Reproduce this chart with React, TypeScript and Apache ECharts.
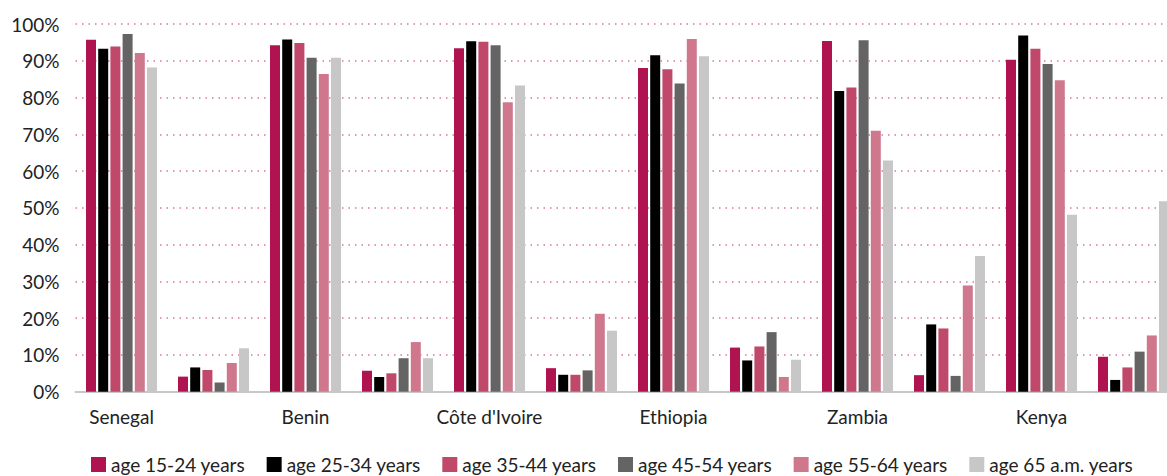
import React, { useEffect, useRef } from "react";
import * as echarts from "echarts";

// Countries; each one has two bar groups, the label sits under the first
const countries = ["Senegal", "Benin", "Côte d'Ivoire", "Ethiopia", "Zambia", "Kenya"];

const ageGroups = [
  "age 15-24 years",
  "age 25-34 years",
  "age 35-44 years",
  "age 45-54 years",
  "age 55-64 years",
  "age 65 a.m. years",
];

const colors = ["#B01450", "#000000", "#C0486B", "#646464", "#CF788D", "#C7C7C7"];

// Shares in percent, two groups per country (Senegal, Senegal, Benin, Benin, ...)
const age15to24 = [95.7, 4.1, 94.2, 5.7, 93.4, 6.4, 88.0, 12.0, 95.4, 4.5, 90.3, 9.5];
const age25to34 = [93.3, 6.6, 95.8, 4.0, 95.3, 4.6, 91.5, 8.5, 81.8, 18.3, 96.9, 3.2];
const age35to44 = [93.9, 5.9, 94.8, 5.0, 95.2, 4.6, 87.7, 12.3, 82.7, 17.2, 93.3, 6.6];
const age45to54 = [97.3, 2.5, 90.8, 9.1, 94.2, 5.8, 83.8, 16.2, 95.6, 4.3, 89.1, 10.9];
const age55to64 = [92.1, 7.8, 86.4, 13.5, 78.7, 21.2, 95.9, 4.0, 71.0, 28.9, 84.7, 15.3];
const age65plus = [88.2, 11.8, 90.8, 9.1, 83.3, 16.6, 91.2, 8.7, 62.9, 36.9, 48.1, 51.8];

const seriesValues = [age15to24, age25to34, age35to44, age45to54, age55to64, age65plus];

const yTicks = { min: 0, max: 100, interval: 10 };

const FONT = "Lato, 'Open Sans', sans-serif";

export default function App() {
  const ref = useRef<HTMLDivElement>(null);

  useEffect(() => {
    if (!ref.current) return;
    const chart = echarts.init(ref.current, null, { renderer: "svg" });

    const categories = countries.flatMap((c) => [c, ""]);

    chart.setOption({
      animation: false,
      textStyle: { fontFamily: FONT },
      grid: { left: 75.5, right: 0.5, top: 24, bottom: 84.3, containLabel: false },
      legend: {
        left: 91,
        top: 455,
        padding: 0,
        itemWidth: 15,
        itemHeight: 15,
        itemGap: 21.5,
        icon: "rect",
        data: ageGroups,
        textStyle: { fontFamily: FONT, fontSize: 19, color: "#222" },
      },
      xAxis: {
        type: "category",
        data: categories,
        axisLine: { show: true, lineStyle: { color: "#C8C8C8", width: 2 } },
        axisTick: { show: false },
        axisLabel: { interval: 0, margin: 15, fontSize: 19, color: "#222", fontFamily: FONT },
        splitLine: { show: false },
      },
      yAxis: {
        type: "value",
        min: yTicks.min,
        max: yTicks.max,
        interval: yTicks.interval,
        axisLine: { show: false },
        axisTick: { show: false },
        axisLabel: {
          formatter: "{value}%",
          margin: 16,
          fontSize: 19,
          color: "#222",
          fontFamily: FONT,
        },
        splitLine: {
          show: true,
          lineStyle: { color: "#D8779A", width: 1.5, type: [1.5, 5] },
        },
      },
      series: ageGroups.map((name, i) => ({
        name,
        type: "bar",
        data: seriesValues[i],
        barWidth: 10,
        barGap: "22%",
        itemStyle: { color: colors[i] },
      })),
    });

    return () => chart.dispose();
  }, []);

  return (
    <div
      style={{
        position: "absolute",
        left: 0,
        top: 0,
        width: 1167,
        height: 476,
        overflow: "hidden",
        background: "#fff",
      }}
    >
      <div ref={ref} style={{ width: 1180, height: 476 }} />
    </div>
  );
}
